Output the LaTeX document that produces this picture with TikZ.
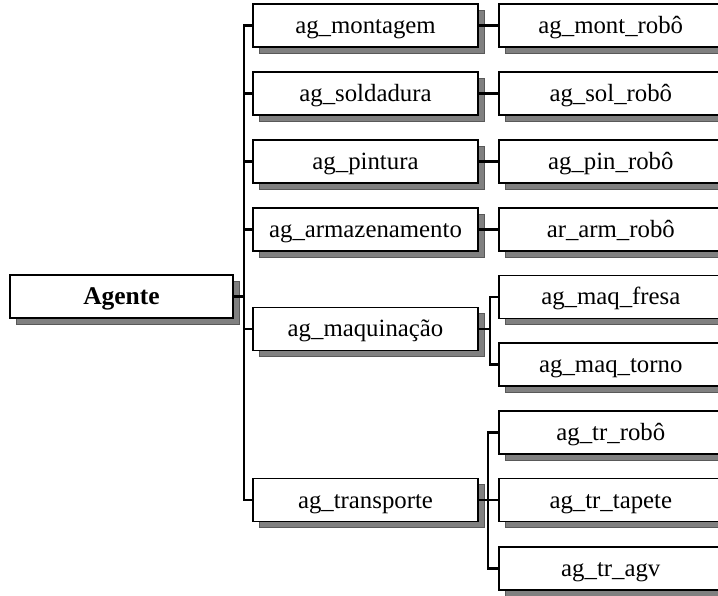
\documentclass[tikz,border=0pt]{standalone}
\usepackage{fontspec}
\setmainfont{Liberation Serif}
\usetikzlibrary{shadows}
\tikzset{
  box/.style={draw=black, line width=1.6pt, fill=white, minimum height=43pt, inner sep=0pt,
    text height=20pt, text depth=4pt,
    font=\fontsize{24.8}{28}\selectfont,
    drop shadow={shadow xshift=6pt, shadow yshift=-6pt, fill=black!50, draw=black!65, line width=0.6pt, opacity=1}},
  midbox/.style={box, minimum width=225pt},
  rbox/.style={box, minimum width=250pt},
  conn/.style={draw=black, line width=2.6pt, line join=miter, line cap=rect}
}
\begin{document}
\begin{tikzpicture}[x=1pt,y=-1pt]
\useasboundingbox (0,0) rectangle (718,596);
\clip (0,0) rectangle (718,596);
\fill[white] (0,0) rectangle (718,596);
% root
\node[box, minimum width=223pt, font=\fontsize{25.5}{28}\selectfont\bfseries] (ag) at (121.5,296.5) {Agente};
% middle
\node[midbox] (m1) at (365.5,25.5) {ag\_montagem};
\node[midbox] (m2) at (365.5,93.5) {ag\_soldadura};
\node[midbox] (m3) at (365.5,161.5) {ag\_pintura};
\node[midbox] (m4) at (365.5,229.5) {ag\_armazenamento};
\node[midbox] (m5) at (365.5,329) {ag\_maquinação};
\node[midbox] (m6) at (365.5,500) {ag\_transporte};
% right
\node[rbox, anchor=west] (r1) at (498,25.5) {\hspace*{-26pt}ag\_mont\_robô};
\node[rbox, anchor=west] (r2) at (498,93.5) {\hspace*{-26pt}ag\_sol\_robô};
\node[rbox, anchor=west] (r3) at (498,161.5) {\hspace*{-26pt}ag\_pin\_robô};
\node[rbox, anchor=west] (r4) at (498,229.5) {\hspace*{-26pt}ar\_arm\_robô};
\node[rbox, anchor=west] (r5) at (498,297) {\hspace*{-26pt}ag\_maq\_fresa};
\node[rbox, anchor=west] (r6) at (498,364.5) {\hspace*{-26pt}ag\_maq\_torno};
\node[rbox, anchor=west] (r7) at (498,432.5) {\hspace*{-26pt}ag\_tr\_robô};
\node[rbox, anchor=west] (r8) at (498,500) {\hspace*{-26pt}ag\_tr\_tapete};
\node[rbox, anchor=west] (r9) at (498,568.5) {\hspace*{-26pt}ag\_tr\_agv};
% trunk
\coordinate (trunk) at (244,0);
\coordinate (bmaq) at (490,0);
\coordinate (btr) at (488,0);
\draw[conn] (m1.west) -| (trunk |- m6.west) -- (m6.west);
\foreach \n in {m2,m3,m4,m5} \draw[conn] (\n.west) -- (\n.west -| trunk);
\draw[conn] (ag.east) -- (ag.east -| trunk);
% direct links
\draw[conn] (m1.east) -- (r1.west);
\draw[conn] (m2.east) -- (r2.west);
\draw[conn] (m3.east) -- (r3.west);
\draw[conn] (m4.east) -- (r4.west);
% maq bracket
\draw[conn] (r5.west) -| (bmaq |- r6.west) -- (r6.west);
\draw[conn] (m5.east) -- (m5.east -| bmaq);
% transport bracket
\draw[conn] (r7.west) -| (btr |- r9.west) -- (r9.west);
\draw[conn] (m6.east) -- (r8.west);
\end{tikzpicture}
\end{document}
